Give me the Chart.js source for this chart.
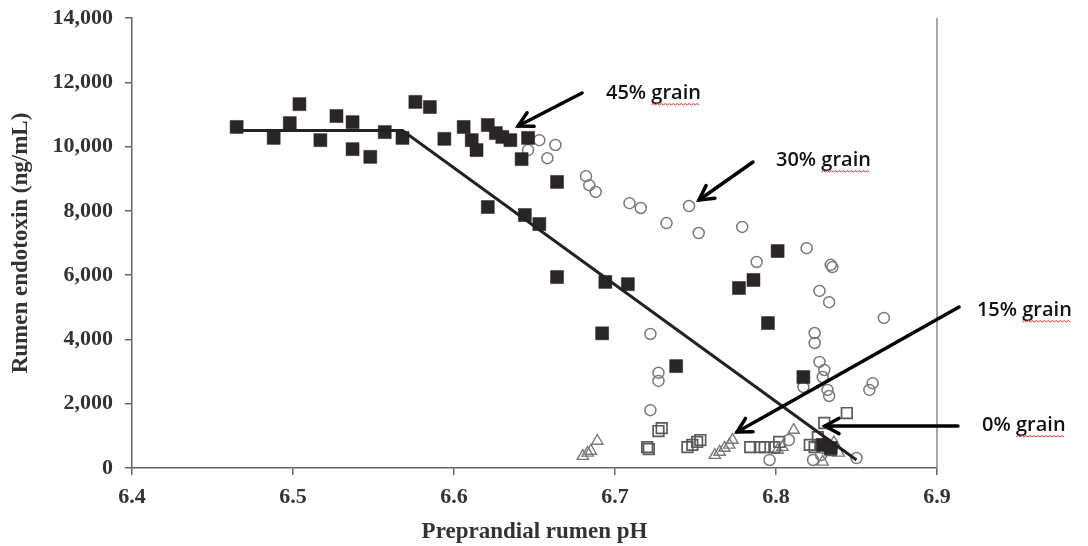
<!DOCTYPE html>
<html>
<head>
<meta charset="utf-8">
<script src="https://cdn.jsdelivr.net/npm/chart.js@4.4.1/dist/chart.umd.min.js"></script>
<style>
  html, body { margin: 0; padding: 0; background: #fff; }
  #wrap { width: 1088px; height: 546px; }
</style>
</head>
<body>
<div id="wrap"><canvas id="c" width="1088" height="546"></canvas></div>
<script>
// ---- Data ----
const xTicks = [6.4, 6.5, 6.6, 6.7, 6.8, 6.9];
const yTicks = [0, 2000, 4000, 6000, 8000, 10000, 12000, 14000];

// 45% grain (filled squares)
const ph45 = [6.465, 6.488, 6.498, 6.504, 6.517, 6.527, 6.537, 6.537, 6.548, 6.557, 6.568, 6.576, 6.585, 6.594, 6.606, 6.611, 6.614, 6.621, 6.626, 6.630, 6.635, 6.646, 6.642, 6.664, 6.621, 6.644, 6.653, 6.664, 6.694, 6.708, 6.692, 6.738, 6.777, 6.786, 6.801, 6.795, 6.817, 6.829, 6.834];
const endo45 = [10610, 10270, 10730, 11320, 10200, 10950, 10760, 9920, 9680, 10450, 10270, 11390, 11230, 10240, 10610, 10200, 9890, 10670, 10420, 10300, 10200, 10270, 9610, 8900, 8120, 7870, 7590, 5940, 5790, 5720, 4190, 3170, 5600, 5850, 6750, 4510, 2830, 720, 620];

// 30% grain (open circles)
const ph30 = [6.653, 6.663, 6.646, 6.658, 6.682, 6.684, 6.688, 6.709, 6.716, 6.732, 6.746, 6.752, 6.779, 6.819, 6.788, 6.834, 6.835, 6.827, 6.833, 6.867, 6.722, 6.824, 6.824, 6.827, 6.830, 6.829, 6.832, 6.833, 6.860, 6.858, 6.817, 6.727, 6.727, 6.722, 6.796, 6.823, 6.850, 6.808, 6.828];
const endo30 = [10200, 10050, 9890, 9640, 9080, 8800, 8590, 8240, 8090, 7620, 8150, 7310, 7500, 6840, 6410, 6320, 6250, 5510, 5160, 4670, 4170, 4200, 3890, 3300, 3050, 2830, 2430, 2240, 2640, 2430, 2520, 2960, 2710, 1800, 250, 250, 310, 870, 400];

// 15% grain (open squares)
const ph15 = [6.720, 6.721, 6.727, 6.729, 6.745, 6.748, 6.751, 6.753, 6.784, 6.790, 6.793, 6.799, 6.802, 6.826, 6.830, 6.844, 6.821, 6.824, 6.834];
const endo15 = [650, 590, 1150, 1240, 650, 720, 810, 870, 650, 650, 650, 650, 810, 960, 1400, 1710, 720, 650, 560];

// 0% grain (open triangles)
const ph0 = [6.680, 6.683, 6.685, 6.689, 6.762, 6.765, 6.768, 6.771, 6.773, 6.801, 6.804, 6.811, 6.829, 6.839, 6.832, 6.836];
const endo0 = [370, 470, 530, 840, 400, 500, 620, 720, 870, 560, 650, 1180, 190, 470, 560, 800];

// Broken-line fit for 45% grain
const fitPh = [6.465, 6.568, 6.850];
const fitEndo = [10500, 10500, 250];

// Annotations
const noteLabels = ['45% grain', '30% grain', '15% grain', '0% grain'];
const noteTextPh = [6.6944, 6.8000, 6.9248, 6.9280];
const noteTextEndo = [11667, 9582, 4916, 1338];
const arrowTailPh = [6.6795, 6.7857, 6.9137, 6.9130];
const arrowTailEndo = [11667, 9520, 5009, 1307];
const arrowHeadPh = [6.6398, 6.7522, 6.7758, 6.8304];
const arrowHeadEndo = [10640, 8338, 1120, 1307];

const toPts = (xs, ys) => xs.map((x, i) => ({ x: x, y: ys[i] }));

const notesPlugin = {
  id: 'notes',
  afterDraw(chart) {
    const { ctx, chartArea, scales } = chart;
    const xs = scales.x, ys = scales.y;
    ctx.save();
    // right border line of plot area
    ctx.strokeStyle = '#8a8a8a';
    ctx.lineWidth = 1.5;
    ctx.beginPath();
    ctx.moveTo(chartArea.right, chartArea.top);
    ctx.lineTo(chartArea.right, chartArea.bottom);
    ctx.stroke();

    ctx.font = '600 20px "Open Sans", "Noto Sans", sans-serif';
    ctx.textBaseline = 'middle';
    ctx.textAlign = 'left';
    for (let i = 0; i < noteLabels.length; i++) {
      const tx = xs.getPixelForValue(arrowTailPh[i]);
      const ty = ys.getPixelForValue(arrowTailEndo[i]);
      const hx = xs.getPixelForValue(arrowHeadPh[i]);
      const hy = ys.getPixelForValue(arrowHeadEndo[i]);
      ctx.strokeStyle = '#000';
      ctx.lineWidth = 3.5;
      ctx.lineCap = 'round';
      ctx.beginPath();
      ctx.moveTo(tx, ty);
      ctx.lineTo(hx, hy);
      ctx.stroke();
      const ang = Math.atan2(hy - ty, hx - tx);
      const L = 16, spread = 0.5;
      ctx.beginPath();
      ctx.moveTo(hx - L * Math.cos(ang - spread), hy - L * Math.sin(ang - spread));
      ctx.lineTo(hx, hy);
      ctx.lineTo(hx - L * Math.cos(ang + spread), hy - L * Math.sin(ang + spread));
      ctx.stroke();

      const px = xs.getPixelForValue(noteTextPh[i]);
      const py = ys.getPixelForValue(noteTextEndo[i]);
      ctx.fillStyle = '#111';
      ctx.fillText(noteLabels[i], px, py);
      // red wavy spell-check underline under "grain"
      const full = ctx.measureText(noteLabels[i]).width;
      const gw = ctx.measureText('grain').width;
      const gx0 = px + full - gw, gx1 = px + full;
      const uy = py + 12;
      ctx.strokeStyle = '#e03030';
      ctx.lineWidth = 1;
      ctx.lineCap = 'butt';
      ctx.beginPath();
      let up = true;
      ctx.moveTo(gx0, uy);
      for (let x = gx0 + 2; x <= gx1; x += 2) {
        ctx.lineTo(x, up ? uy - 1.5 : uy);
        up = !up;
      }
      ctx.stroke();
    }
    ctx.restore();
  }
};

const tickFont = { family: '"Liberation Serif", "Times New Roman", serif', size: 22, weight: 'bold' };
const titleFont = { family: '"Liberation Serif", "Times New Roman", serif', size: 23, weight: 'bold' };

new Chart(document.getElementById('c'), {
  type: 'scatter',
  data: {
    datasets: [
      {
        label: 'fit',
        data: toPts(fitPh, fitEndo),
        showLine: true,
        borderColor: '#222',
        borderWidth: 3,
        pointRadius: 0,
        order: 0
      },
      {
        label: '0% grain',
        data: toPts(ph0, endo0),
        pointStyle: 'triangle',
        pointRadius: 6.5,
        borderColor: '#7a7a7a',
        backgroundColor: 'rgba(0,0,0,0)',
        borderWidth: 1.4,
        order: 4
      },
      {
        label: '15% grain',
        data: toPts(ph15, endo15),
        pointStyle: 'rect',
        pointRadius: 7.5,
        borderColor: '#5a5a5a',
        backgroundColor: 'rgba(0,0,0,0)',
        borderWidth: 1.7,
        order: 3
      },
      {
        label: '30% grain',
        data: toPts(ph30, endo30),
        pointStyle: 'circle',
        pointRadius: 5.5,
        borderColor: '#7a7a7a',
        backgroundColor: 'rgba(0,0,0,0)',
        borderWidth: 1.5,
        order: 2
      },
      {
        label: '45% grain',
        data: toPts(ph45, endo45),
        pointStyle: 'rect',
        pointRadius: 9.2,
        borderColor: '#2a2526',
        backgroundColor: '#2a2526',
        borderWidth: 0.5,
        order: 1
      }
    ]
  },
  options: {
    responsive: false,
    animation: false,
    events: [],
    layout: { padding: { top: 18, right: 151, left: 0, bottom: 0 } },
    plugins: {
      legend: { display: false },
      tooltip: { enabled: false }
    },
    scales: {
      x: {
        type: 'linear',
        min: 6.4,
        max: 6.9,
        afterBuildTicks: (s) => { s.ticks = xTicks.map(v => ({ value: v })); },
        afterFit: (s) => { s.height = 78; s.paddingLeft = 0; s.paddingRight = 0; },
        ticks: {
          callback: (v) => Number(v).toFixed(1),
          color: '#333',
          font: tickFont,
          padding: 9,
          maxRotation: 0
        },
        grid: { display: true, drawOnChartArea: false, drawTicks: true, tickLength: 7, color: '#666', lineWidth: 1.5 },
        border: { display: true, color: '#666', width: 1.5 },
        title: {
          display: true,
          text: 'Preprandial rumen pH',
          color: '#333',
          font: titleFont,
          padding: { top: 0, bottom: 0 }
        }
      },
      y: {
        type: 'linear',
        min: 0,
        max: 14000,
        afterBuildTicks: (s) => { s.ticks = yTicks.map(v => ({ value: v })); },
        afterFit: (s) => { s.width = 132; s.paddingTop = 0; s.paddingBottom = 0; },
        ticks: {
          callback: (v) => Number(v).toLocaleString('en-US'),
          color: '#333',
          font: tickFont,
          padding: 12
        },
        grid: { display: true, drawOnChartArea: false, drawTicks: true, tickLength: 7, color: '#666', lineWidth: 1.5 },
        border: { display: true, color: '#666', width: 1.5 },
        title: {
          display: true,
          text: 'Rumen endotoxin (ng/mL)',
          color: '#333',
          font: titleFont,
          padding: { top: 7, bottom: 0 }
        }
      }
    }
  },
  plugins: [notesPlugin]
});
</script>
</body>
</html>
